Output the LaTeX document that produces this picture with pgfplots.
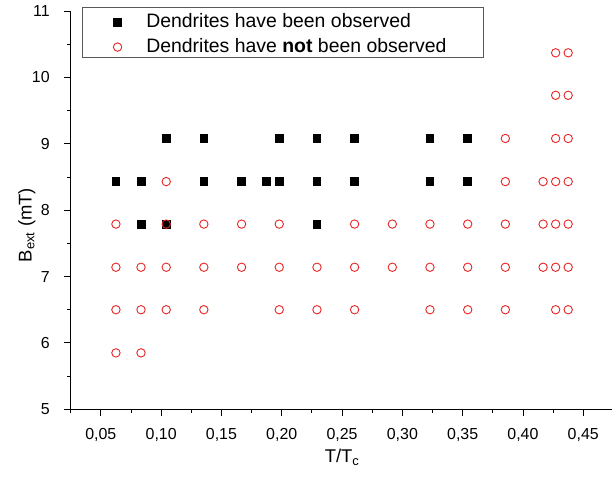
\documentclass[border=0pt]{standalone}
\usepackage{fontspec}
\setmainfont{Liberation Sans}
\usepackage{pgfplots}
\pgfplotsset{compat=1.18}
\definecolor{obsred}{RGB}{232,36,36}

\begin{document}
\begin{tikzpicture}
\begin{axis}[
    name=ax,
    scale only axis,
    width=542.7bp,
    height=398.3bp,
    xmin=0.025, xmax=0.475,
    ymin=5, ymax=11,
    axis x line*=bottom,
    axis y line*=left,
    axis line style={line width=1bp},
    tick align=outside,
    major tick length=6.5bp,
    minor tick length=3.5bp,
    every tick/.style={black, line width=0.9bp},
    xtick={0.05,0.10,0.15,0.20,0.25,0.30,0.35,0.40,0.45},
    minor xtick={0.025,0.075,0.125,0.175,0.225,0.275,0.325,0.375,0.425,0.475},
    ytick={5,6,7,8,9,10,11},
    minor ytick={5.5,6.5,7.5,8.5,9.5,10.5},
    tick label style={font=\fontsize{16}{19}\selectfont},
    /pgf/number format/assume math mode=true,
    xticklabel style={yshift=-9bp, /pgf/number format/.cd, fixed, fixed zerofill, precision=2, use comma},
    yticklabel style={xshift=-11bp},
    xlabel={T/T\textsubscript{c}},
    ylabel={B\textsubscript{ext} (mT)},
    label style={font=\fontsize{18.5}{22}\selectfont},
    xlabel style={at={(axis description cs:0.5,-0.1348)}, anchor=base},
    ylabel style={at={(axis description cs:-0.0719,0.4627)}, anchor=base},
    legend style={
        at={(axis description cs:0.0214,1.0108)},
        anchor=north west,
        draw=black!65,
        line width=0.8bp,
        fill=white,
        inner xsep=0pt,
        inner ysep=3.4bp,
        row sep=6bp,
        column sep=0pt,
        font=\fontsize{19.5}{22}\selectfont,
        nodes={inner sep=0pt, text height=17bp, text depth=2bp}
    },
    legend cell align=left,
    legend image code/.code={
        \path (-34.4bp,0) (28.3bp,0);
        \draw[#1] plot coordinates {(0bp,-2.1bp)};
    }
]
\addplot[only marks, mark=square*, mark size=3.9bp, line width=0.8bp, black] coordinates {
    (0.0625,8.43)
    (0.0833,8.43) (0.0833,7.79)
    (0.1042,9.08) (0.1042,7.79)
    (0.1354,9.08) (0.1354,8.43)
    (0.1667,8.43)
    (0.1875,8.43)
    (0.1979,9.08) (0.1979,8.43)
    (0.2292,9.08) (0.2292,8.43) (0.2292,7.79)
    (0.2604,9.08) (0.2604,8.43)
    (0.3229,9.08) (0.3229,8.43)
    (0.3542,9.08) (0.3542,8.43)
};
\addplot[only marks, mark=o, mark size=4.2bp, line width=0.9bp, obsred] coordinates {
    (0.0625,7.79) (0.0625,7.14) (0.0625,6.50) (0.0625,5.85)
    (0.0833,7.14) (0.0833,6.50) (0.0833,5.85)
    (0.1042,8.43) (0.1042,7.79) (0.1042,7.14) (0.1042,6.50)
    (0.1354,7.79) (0.1354,7.14) (0.1354,6.50)
    (0.1667,7.79) (0.1667,7.14)
    (0.1979,7.79) (0.1979,7.14) (0.1979,6.50)
    (0.2292,7.14) (0.2292,6.50)
    (0.2604,7.79) (0.2604,7.14) (0.2604,6.50)
    (0.2917,7.79) (0.2917,7.14)
    (0.3229,7.79) (0.3229,7.14) (0.3229,6.50)
    (0.3542,7.79) (0.3542,7.14) (0.3542,6.50)
    (0.3854,9.08) (0.3854,8.43) (0.3854,7.79) (0.3854,7.14) (0.3854,6.50)
    (0.4167,8.43) (0.4167,7.79) (0.4167,7.14)
    (0.4271,10.37) (0.4271,9.73) (0.4271,9.08) (0.4271,8.43) (0.4271,7.79) (0.4271,7.14) (0.4271,6.50)
    (0.4375,10.37) (0.4375,9.73) (0.4375,9.08) (0.4375,8.43) (0.4375,7.79) (0.4375,7.14) (0.4375,6.50)
};
\legend{\makebox[337bp][l]{Dendrites have been observed},\makebox[337bp][l]{Dendrites have \textbf{not} been observed}}
\end{axis}
\pgfresetboundingbox
\path ([shift={(-70.7bp,-70.7bp)}]ax.south west) rectangle ([shift={(-1.4bp,11bp)}]ax.north east);
\end{tikzpicture}
\end{document}
